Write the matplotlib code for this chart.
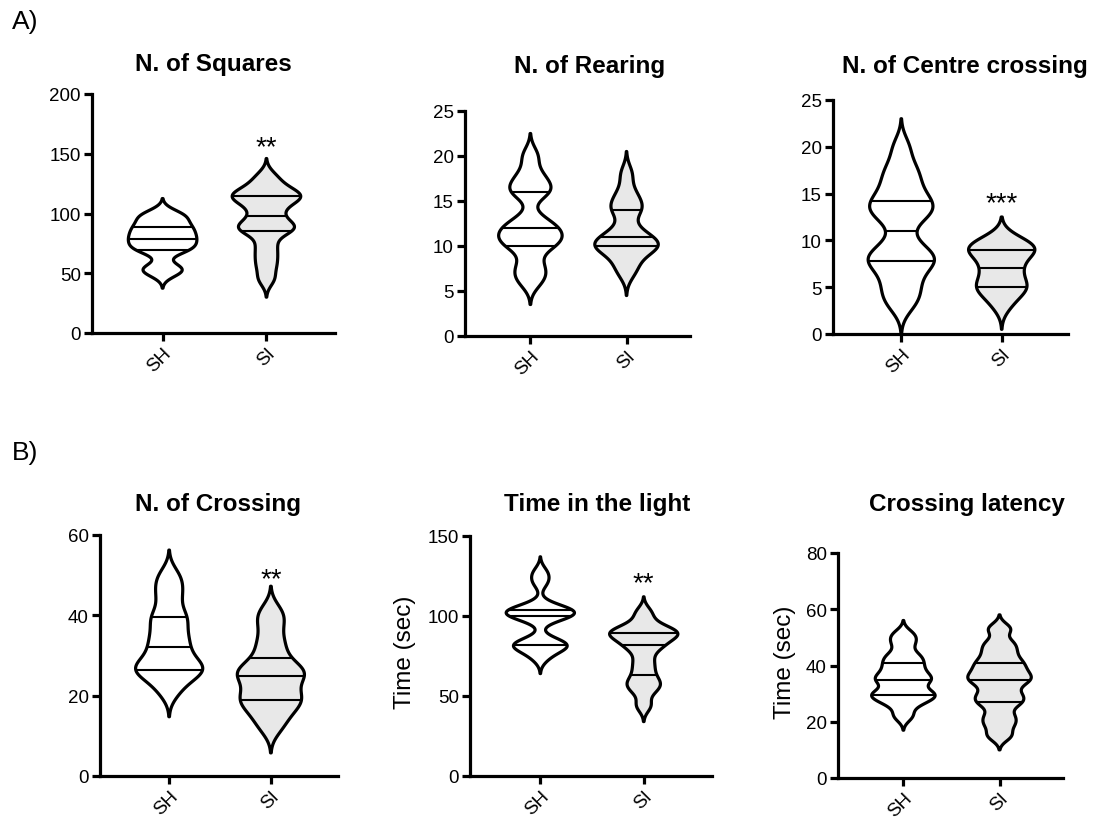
import numpy as np
import matplotlib
matplotlib.use('Agg')
import matplotlib.pyplot as plt

plt.rcParams['font.family'] = ['Liberation Sans', 'DejaVu Sans']

groups = ['SH', 'SI']

# A) open field
squares_sh = [50, 53, 55, 68, 70, 72, 75, 78, 80, 82, 86, 88, 90, 95, 98, 100]
squares_si = [45, 56, 65, 74, 85, 87, 89, 91, 98, 104, 110, 112, 115, 116, 118, 124, 131]
rearing_sh = [6, 7, 8, 10, 10, 11, 11, 12, 12, 13, 16, 16, 17, 18, 20]
rearing_si = [7, 8, 9, 10, 10, 10, 10, 11, 11, 12, 14, 14, 15, 16, 18]
centre_sh = [3, 4, 5, 6, 7, 8, 8, 8, 9, 10, 12, 13, 13, 14, 14, 15, 16, 17, 18, 20]
centre_si = [3, 4, 5, 5, 5, 6, 7, 7, 8, 9, 9, 9, 9, 10, 10]

# B) light/dark box
crossing_sh = [21, 24, 26, 26, 27, 28, 30, 32, 34, 36, 39, 40, 44, 47, 50]
crossing_si = [12, 15, 17, 19, 19, 21, 23, 25, 26, 26, 28, 31, 34, 38, 41]
light_sh = [74, 79, 81, 82, 82, 85, 98, 100, 101, 102, 103, 104, 106, 121, 127]
light_si = [44, 53, 57, 60, 66, 72, 79, 82, 85, 88, 89, 90, 91, 95, 102]
latency_sh = [22, 26, 28, 29, 30, 31, 34, 35, 36, 38, 40, 42, 44, 48, 51]
latency_si = [15, 19, 22, 26, 28, 30, 33, 35, 36, 38, 40, 42, 45, 48, 53]

data = [(squares_sh, squares_si), (rearing_sh, rearing_si), (centre_sh, centre_si),
        (crossing_sh, crossing_si), (light_sh, light_si), (latency_sh, latency_si)]
titles = ['N. of Squares', 'N. of Rearing', 'N. of Centre crossing',
          'N. of Crossing', 'Time in the light', 'Crossing latency']
ymax = [200, 25, 25, 60, 150, 80]
ystep = [50, 5, 5, 20, 50, 20]
stars = ['**', '', '***', '**', '**', '']
star_y = [150, 0, 13.2, 47.3, 116, 0]
ylabels = ['', '', '', '', 'Time (sec)', 'Time (sec)']
# kernel bandwidth (SH, SI) per panel
bw = [(5, 6), (1.0, 1.0), (1.2, 1.0), (2.5, 2.5), (4, 4), (2, 2)]

W, H = 1098, 820
fig = plt.figure(figsize=(W/100, H/100), dpi=100)

# axes boxes in pixels: x left, x right, y top, y bottom
boxes = [(92, 335, 95, 334), (465, 690, 112, 337), (833, 1068, 101, 335),
         (100, 338, 536, 777), (470, 712, 537, 777), (838, 1063, 554, 779)]
title_xy = [(213, 65), (590, 67), (965, 67), (218, 505), (597, 505), (967, 505)]
ylabel_xy = [None, None, None, None, (405, 652), (785, 662)]


def draw_violin(ax, vals, pos, h, face):
    vals = np.asarray(vals, float)
    y = np.linspace(vals.min() - 2.5*h, vals.max() + 2.5*h, 400)
    dens = np.exp(-0.5*((y[:, None] - vals[None, :])/h)**2).sum(axis=1)
    half = 0.33*dens/dens.max()
    for q in np.percentile(vals, [25, 50, 75]):
        w = np.interp(q, y, half)
        ax.plot([pos - w, pos + w], [q, q], color='black', lw=1.5,
                solid_capstyle='butt', zorder=3)
    ax.fill(np.r_[pos - half, (pos + half)[::-1]], np.r_[y, y[::-1]],
            facecolor=face, edgecolor='black', lw=2.3, zorder=2, joinstyle='round')


for i in range(6):
    x0, x1, yt, yb = boxes[i]
    ax = fig.add_axes([x0/W, 1 - yb/H, (x1 - x0)/W, (yb - yt)/H])
    draw_violin(ax, data[i][0], 1, bw[i][0], 'white')
    draw_violin(ax, data[i][1], 2, bw[i][1], '#e8e8e8')
    ax.set_xlim(0.32, 2.66)
    ax.set_ylim(0, ymax[i])
    ax.set_yticks(np.arange(0, ymax[i] + 1, ystep[i]))
    ax.set_xticks([1, 2])
    ax.set_xticklabels(groups, rotation=45, ha='right', rotation_mode='anchor')
    for s in ['top', 'right']:
        ax.spines[s].set_visible(False)
    for s in ['left', 'bottom']:
        ax.spines[s].set_linewidth(2.3)
    ax.tick_params(width=2.3, length=6, labelsize=13.5, pad=2)
    if stars[i]:
        ax.text(2, star_y[i], stars[i], ha='center', va='baseline', fontsize=20)
    tx, ty = title_xy[i]
    fig.text(tx/W, 1 - ty/H, titles[i], ha='center', va='center',
             fontsize=17.5, fontweight='bold')
    if ylabels[i]:
        lx, ly = ylabel_xy[i]
        fig.text(lx/W, 1 - ly/H, ylabels[i], ha='center', va='center',
                 rotation=90, fontsize=17.5)

fig.text(12/W, 1 - 22/H, 'A)', ha='left', va='center', fontsize=19)
fig.text(12/W, 1 - 453/H, 'B)', ha='left', va='center', fontsize=19)

fig.savefig('out.png', dpi=100)
